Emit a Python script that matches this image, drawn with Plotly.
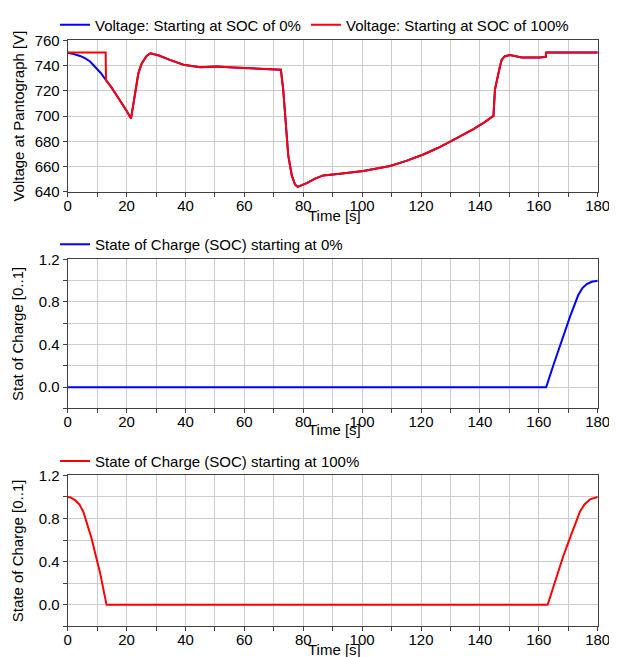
import plotly.graph_objects as go

# ---------------- data ----------------
# Voltage at pantograph, run starting at SOC 100 % (red)
v100_t = [0, 12.9, 13.0, 14.8, 16.6, 18.5, 20.2, 21.5, 22.9, 24.0, 25.1, 26.8, 28.1,
          31.0, 34.7, 39.3, 45.0, 50.7, 56.2, 65.3, 72.4, 73.2, 74.2, 74.9, 76.1,
          77.2, 78.1, 81.2, 84.0, 86.8, 92.5, 100.4, 109.5, 115.0, 120.8, 125.5,
          129.9, 134.0, 137.8, 141.5, 144.6, 145.1, 146.0, 146.8, 147.4, 148.5,
          150.2, 152.0, 154.2, 160.4, 162.4, 162.5, 180.0]
v100 = [750.5, 750.5, 728.5, 723.0, 716.5, 710.0, 703.5, 698.0, 718.4, 734.0, 741.5,
        747.7, 749.8, 748.0, 744.6, 740.7, 738.8, 739.3, 738.6, 737.5, 736.7, 721.0,
        687.0, 668.8, 653.0, 645.8, 643.9, 646.8, 650.5, 653.0, 654.4, 656.5, 660.4,
        664.5, 669.6, 674.5, 679.8, 684.8, 689.7, 695.0, 700.2, 721.0, 732.0, 739.4,
        744.6, 747.5, 748.5, 747.3, 746.4, 746.4, 747.0, 750.5, 750.5]

# Voltage at pantograph, run starting at SOC 0 % (blue): own start, then same as red
v0_t = [0, 2.0, 4.2, 6.0, 7.6, 9.85, 11.3, 12.7, 13.0, 14.8, 16.6, 18.5, 20.2, 21.5,
        22.9, 24.0, 25.1, 26.8, 28.1, 31.0, 34.7, 39.3, 45.0, 50.7, 56.2, 65.3, 72.4,
        73.2, 74.2, 74.9, 76.1, 77.2, 78.1, 81.2, 84.0, 86.8, 92.5, 100.4, 109.5,
        115.0, 120.8, 125.5, 129.9, 134.0, 137.8, 141.5, 144.6, 145.1, 146.0, 146.8,
        147.4, 148.5, 150.2, 152.0, 154.2, 160.4, 162.4, 162.5, 180.0]
v0 = [750.2, 749.3, 747.7, 745.8, 743.3, 738.0, 734.0, 729.4, 728.5, 723.0, 716.5,
      710.0, 703.5, 698.0, 718.4, 734.0, 741.5, 747.7, 749.8, 748.0, 744.6, 740.7,
      738.8, 739.3, 738.6, 737.5, 736.7, 721.0, 687.0, 668.8, 653.0, 645.8, 643.9,
      646.8, 650.5, 653.0, 654.4, 656.5, 660.4, 664.5, 669.6, 674.5, 679.8, 684.8,
      689.7, 695.0, 700.2, 721.0, 732.0, 739.4, 744.6, 747.5, 748.5, 747.3, 746.4,
      746.4, 747.0, 750.5, 750.5]

# State of charge, run starting at 0 %
soc0_t = [0, 162.5, 165.0, 167.8, 170.6, 173.4, 174.8, 176.3, 178.0, 180.0]
soc0 = [0.0, 0.0, 0.21, 0.443, 0.663, 0.865, 0.93, 0.968, 0.99, 1.0]

# State of charge, run starting at 100 %
soc100_t = [0, 1.0, 2.5, 4.0, 5.3, 6.5, 8.1, 9.5, 11.0, 12.3, 13.2, 163.0, 165.5,
            168.3, 171.2, 174.0, 175.5, 177.4, 180.0]
soc100 = [1.0, 0.995, 0.97, 0.93, 0.863, 0.76, 0.617, 0.46, 0.296, 0.12, 0.0, 0.0,
          0.205, 0.45, 0.665, 0.865, 0.93, 0.978, 1.0]

name_v0 = "Voltage: Starting at SOC of 0%"
name_v100 = "Voltage: Starting at SOC of 100%"
name_s0 = "State of Charge (SOC) starting at 0%"
name_s100 = "State of Charge (SOC) starting at 100%"
x_title = "Time [s]"

# ---------------- figure ----------------
BLUE = "#0000ff"
RED = "#ff0000"
FONT = "Arial, Liberation Sans, sans-serif"
AX = "#404040"
GRID = "#cccccc"

fig = go.Figure()
fig.add_trace(go.Scatter(x=v0_t, y=v0, mode="lines", name=name_v0,
                         line=dict(color=BLUE, width=2), xaxis="x", yaxis="y",
                         legend="legend"))
fig.add_trace(go.Scatter(x=v100_t, y=v100, mode="lines", name=name_v100,
                         line=dict(color=RED, width=2), xaxis="x", yaxis="y",
                         legend="legend"))
fig.add_trace(go.Scatter(x=soc0_t, y=soc0, mode="lines", name=name_s0,
                         line=dict(color=BLUE, width=2), xaxis="x2", yaxis="y2",
                         legend="legend2"))
fig.add_trace(go.Scatter(x=soc100_t, y=soc100, mode="lines", name=name_s100,
                         line=dict(color=RED, width=2), xaxis="x3", yaxis="y3",
                         legend="legend3"))

W, H = 617, 657
OFF = 8  # page body margin: figure pixels = screen pixels - OFF


def px_x(pix):
    return (pix - OFF) / W


def px_y(pix):
    return 1 - (pix - OFF) / H


XDOM = [px_x(67.7), px_x(597.7)]


def xaxis_cfg(anchor):
    return dict(
        anchor=anchor, domain=XDOM, range=[0, 180], tick0=0, dtick=20,
        ticks="outside", ticklen=4, tickcolor=AX, showline=True, linecolor=AX,
        linewidth=1, mirror=True, showgrid=True, gridcolor=GRID, gridwidth=1,
        zeroline=False, automargin=False, ticklabelstandoff=-4,
        tickfont=dict(size=15, color="black", family=FONT),
        minor=dict(dtick=10, tick0=0, ticks="outside", ticklen=4, tickcolor=AX,
                   showgrid=True, gridcolor=GRID, gridwidth=1),
    )


def yaxis_soc(anchor, dom, title):
    return dict(
        anchor=anchor, domain=dom, range=[-0.2, 1.2], tick0=0, dtick=0.4,
        tickformat=".1f", ticks="outside", ticklen=4, tickcolor=AX,
        showline=True, linecolor=AX, linewidth=1, mirror=True, showgrid=True,
        gridcolor=GRID, zeroline=False, automargin=False,
        tickfont=dict(size=15, color="black", family=FONT),
        minor=dict(dtick=0.2, tick0=0, ticks="outside", ticklen=4, tickcolor=AX,
                   showgrid=True, gridcolor=GRID, gridwidth=1),
        title=dict(text=title, standoff=11,
                   font=dict(size=15, color="black", family=FONT)),
    )


dom1 = [px_y(186.7), px_y(33.7)]
dom2 = [px_y(405.7), px_y(255.0)]
dom3 = [px_y(626.0), px_y(473.3)]

leg_common = dict(orientation="h", xanchor="left", yanchor="middle",
                  x=px_x(55), bgcolor="rgba(0,0,0,0)",
                  font=dict(size=15, color="black", family=FONT),
                  tracegroupgap=0)

xt_font = dict(size=15, color="black", family=FONT)
annotations = [
    dict(text=x_title, xref="paper", yref="paper", x=px_x(334), y=px_y(yy),
         xanchor="center", yanchor="middle", showarrow=False, font=xt_font)
    for yy in (211, 427, 649)
]

fig.update_layout(
    width=W, height=H,
    margin=dict(l=0, r=0, t=0, b=0, pad=0),
    paper_bgcolor="white", plot_bgcolor="white",
    font=dict(family=FONT, size=15, color="black"),
    showlegend=True,
    xaxis=xaxis_cfg("y"),
    xaxis2=xaxis_cfg("y2"),
    xaxis3=xaxis_cfg("y3"),
    yaxis=dict(
        anchor="x", domain=dom1, range=[640, 760], tick0=640, dtick=20,
        ticks="outside", ticklen=4, tickcolor=AX, showline=True, linecolor=AX,
        linewidth=1, mirror=True, showgrid=True, gridcolor=GRID, zeroline=False,
        automargin=False, tickfont=dict(size=15, color="black", family=FONT),
        title=dict(text="Voltage at Pantograph [V]", standoff=6,
                   font=dict(size=15, color="black", family=FONT)),
    ),
    yaxis2=yaxis_soc("x2", dom2, "Stat of Charge [0..1]"),
    yaxis3=yaxis_soc("x3", dom3, "State of Charge [0..1]"),
    legend=dict(leg_common, y=px_y(18)),
    legend2=dict(leg_common, y=px_y(240)),
    legend3=dict(leg_common, y=px_y(459)),
    annotations=annotations,
)

fig.write_html("out.html")
